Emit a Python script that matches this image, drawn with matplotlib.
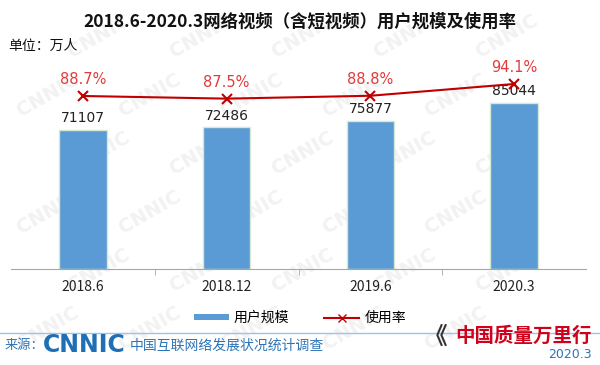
import matplotlib.pyplot as plt
from matplotlib.patches import Patch
from matplotlib.lines import Line2D

plt.rcParams['font.family'] = ['Noto Sans CJK SC', 'DejaVu Sans']

# 数据
periods = ['2018.6', '2018.12', '2019.6', '2020.3']
users = [71107, 72486, 75877, 85044]       # 万人
usage_rate = [88.7, 87.5, 88.8, 94.1]      # %

bar_color = '#5B9BD5'
line_color = '#C00000'
label_red = '#E03C3C'
blue_text = '#2E75B6'

fig = plt.figure(figsize=(6, 3.65), dpi=100)

# 背景水印（放在最底层的坐标轴里，留在画面内部）
bg = fig.add_axes([0, 0, 1, 1], zorder=-5)
bg.set_xlim(0, 1)
bg.set_ylim(0, 1)
bg.axis('off')
for row in range(6):
    for col in range(6):
        wx = 0.08 + col * 0.17 + (row % 2) * 0.085
        wy = 0.1 + row * 0.16
        if wx > 0.92:
            continue
        bg.text(wx, wy, 'CNNIC', fontsize=14, fontweight='bold', color='#F2F2F2',
                rotation=30, ha='center', va='center', family='DejaVu Sans')

ax = fig.add_axes([11 / 600, 96 / 365, 575 / 600, 209 / 365])
ax.patch.set_alpha(0)
x = range(len(periods))
bars = ax.bar(x, users, width=0.33, color=bar_color, edgecolor='#D5E8D4',
              linewidth=1, zorder=2)
ax.set_ylim(0, 107000)
ax.set_xlim(-0.5, len(periods) - 0.5)
for xi, v in zip(x, users):
    ax.text(xi, v + 2500, f'{v}', ha='center', va='bottom', fontsize=10,
            color='#222222', family='DejaVu Sans')

ax.set_yticks([])
for s in ['top', 'right', 'left']:
    ax.spines[s].set_visible(False)
ax.spines['bottom'].set_color('#A6A6A6')
ax.set_xticks([i + 0.5 for i in range(len(periods) - 1)], minor=True)
ax.set_xticks(list(x))
ax.set_xticklabels(periods, fontsize=10, color='#222222')
ax.tick_params(axis='x', which='major', length=0, pad=8)
ax.tick_params(axis='x', which='minor', length=4, color='#A6A6A6')

ax2 = ax.twinx()
ax2.set_ylim(10.8, 104.9)
ax2.plot(list(x), usage_rate, color=line_color, linewidth=1.5, marker='x',
         markersize=7, markeredgewidth=1.5, zorder=3)
for xi, v in zip(x, usage_rate):
    ax2.text(xi, v + 4, f'{v}%', ha='center', va='bottom', fontsize=10.5,
             color=label_red, family='DejaVu Sans')
ax2.axis('off')

# 标题
fig.text(0.5, 1 - 22 / 365, '2018.6-2020.3网络视频（含短视频）用户规模及使用率',
         ha='center', va='center', fontsize=12.5, fontweight='bold', color='#111111')
fig.text(8 / 600, 1 - 46 / 365, '单位：万人', ha='left', va='center',
         fontsize=10, color='#111111')

# 图例
handles = [Patch(facecolor=bar_color, edgecolor='none'),
           Line2D([], [], color=line_color, marker='x', markersize=6, linewidth=1.5)]
fig.legend(handles, ['用户规模', '使用率'], loc='center', ncol=2,
           bbox_to_anchor=(0.5, 1 - 318 / 365), frameon=False, fontsize=10,
           handlelength=2.5, handleheight=0.35, columnspacing=2.5, handletextpad=0.4)

# 页脚
fig.add_artist(Line2D([0, 1], [1 - 333 / 365] * 2, color='#9DC3E6', linewidth=1))
fig.text(5 / 600, 1 - 346 / 365, '来源：', ha='left', va='center', fontsize=9.5,
         color=blue_text)
fig.text(43 / 600, 1 - 345 / 365, 'CNNIC', ha='left', va='center', fontsize=17,
         fontweight='bold', color='#1F6FB5', family='DejaVu Sans')
fig.text(130 / 600, 1 - 346 / 365, '中国互联网络发展状况统计调查', ha='left', va='center',
         fontsize=10, color=blue_text)
fig.text(548 / 600, 1 - 355 / 365, '2020.3', ha='left', va='center', fontsize=9,
         color=blue_text, family='DejaVu Sans')
fig.text(436 / 600, 1 - 337 / 365, '《', ha='center', va='center', fontsize=17,
         fontweight='bold', color='#333333')
fig.text(592 / 600, 1 - 336 / 365, '中国质量万里行', ha='right', va='center',
         fontsize=14, fontweight='bold', color='#D0021B', style='italic')

fig.savefig('out.png', dpi=100)
